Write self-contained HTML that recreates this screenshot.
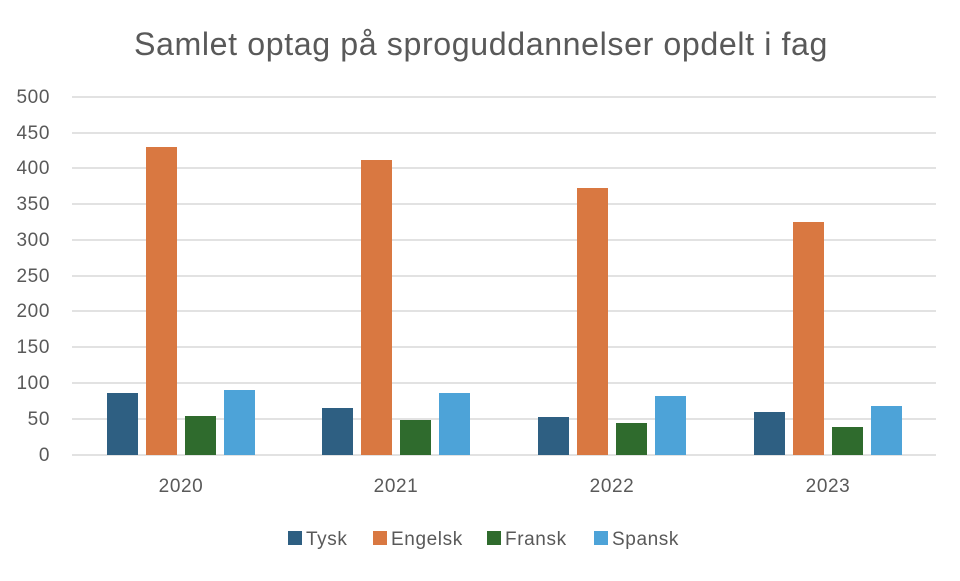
<!DOCTYPE html>
<html><head><meta charset="utf-8"><style>
body{margin:0;background:#fff;}
svg text{font-family:"Liberation Sans",sans-serif;}
</style></head><body>
<svg width="960" height="576" xmlns="http://www.w3.org/2000/svg">
<rect width="960" height="576" fill="#fff"/>
<text x="481" y="55" text-anchor="middle" font-size="32" letter-spacing="0.6" fill="#595959" textLength="694" lengthAdjust="spacingAndGlyphs">Samlet optag på sproguddannelser opdelt i fag</text>
<g stroke="#d9d9d9" stroke-width="1.5">
<line x1="72" x2="936" y1="97" y2="97"/><line x1="72" x2="936" y1="133" y2="133"/>
<line x1="72" x2="936" y1="168" y2="168"/><line x1="72" x2="936" y1="204" y2="204"/>
<line x1="72" x2="936" y1="240" y2="240"/><line x1="72" x2="936" y1="276" y2="276"/>
<line x1="72" x2="936" y1="311" y2="311"/><line x1="72" x2="936" y1="347" y2="347"/>
<line x1="72" x2="936" y1="383" y2="383"/><line x1="72" x2="936" y1="419" y2="419"/>
<line x1="72" x2="936" y1="455" y2="455"/>
</g>
<g font-size="19" letter-spacing="0.6" fill="#595959" text-anchor="end">
<text x="50" y="103">500</text><text x="50" y="139">450</text><text x="50" y="174">400</text>
<text x="50" y="210">350</text><text x="50" y="246">300</text><text x="50" y="282">250</text>
<text x="50" y="317">200</text><text x="50" y="353">150</text><text x="50" y="389">100</text>
<text x="50" y="425">50</text><text x="50" y="461">0</text>
</g>
<g>
<rect x="107" y="393" width="31" height="62" fill="#2e5f82"/>
<rect x="146" y="147" width="31" height="308" fill="#d97841"/>
<rect x="185" y="416" width="31" height="39" fill="#2f6b2d"/>
<rect x="224" y="390" width="31" height="65" fill="#4da3d8"/>
<rect x="322" y="408" width="31" height="47" fill="#2e5f82"/>
<rect x="361" y="160" width="31" height="295" fill="#d97841"/>
<rect x="400" y="420" width="31" height="35" fill="#2f6b2d"/>
<rect x="439" y="393" width="31" height="62" fill="#4da3d8"/>
<rect x="538" y="417" width="31" height="38" fill="#2e5f82"/>
<rect x="577" y="188" width="31" height="267" fill="#d97841"/>
<rect x="616" y="423" width="31" height="32" fill="#2f6b2d"/>
<rect x="655" y="396" width="31" height="59" fill="#4da3d8"/>
<rect x="754" y="412" width="31" height="43" fill="#2e5f82"/>
<rect x="793" y="222" width="31" height="233" fill="#d97841"/>
<rect x="832" y="427" width="31" height="28" fill="#2f6b2d"/>
<rect x="871" y="406" width="31" height="49" fill="#4da3d8"/>
</g>
<g font-size="19" letter-spacing="0.6" fill="#595959" text-anchor="middle">
<text x="181" y="492">2020</text><text x="396" y="492">2021</text>
<text x="612" y="492">2022</text><text x="828" y="492">2023</text>
</g>
<g font-size="19" letter-spacing="0.6" fill="#595959">
<rect x="288" y="531" width="14" height="14" fill="#2e5f82"/><text x="306" y="545">Tysk</text>
<rect x="373" y="531" width="14" height="14" fill="#d97841"/><text x="391" y="545">Engelsk</text>
<rect x="487" y="531" width="14" height="14" fill="#2f6b2d"/><text x="505" y="545">Fransk</text>
<rect x="594" y="531" width="14" height="14" fill="#4da3d8"/><text x="612" y="545">Spansk</text>
</g>
</svg>
</body></html>
